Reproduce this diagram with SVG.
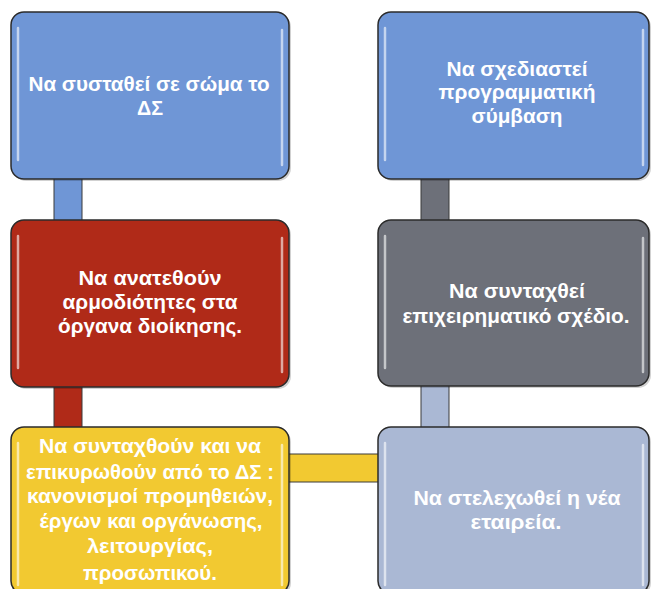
<svg xmlns="http://www.w3.org/2000/svg" width="651" height="589" viewBox="0 0 651 589">
<style>
.box{stroke:#2b2b2b;stroke-width:1.5}
.hl{stroke:#ffffff;stroke-width:2.5;stroke-linecap:round;opacity:0.6;fill:none}
.sh{fill:#000;opacity:0.18}
.con{stroke:#3a3a3a;stroke-width:1}
.t{font-family:"Liberation Sans",Arial,sans-serif;font-weight:700;font-size:20px;fill:#ffffff;text-anchor:middle}
</style>
<rect width="651" height="589" fill="#ffffff"/>
<g id="connectors">
<rect class="con" x="54" y="176" width="28" height="48" fill="#6f96d6"/>
<rect class="con" x="54" y="384" width="28" height="46" fill="#b02a18"/>
<rect class="con" x="286" y="454" width="95" height="28" fill="#f2c931"/>
<rect class="con" x="421" y="383" width="28" height="47" fill="#aab8d4"/>
<rect class="con" x="421" y="176" width="28" height="48" fill="#6d7079"/>
</g>
<g id="n1">
<rect class="sh" x="13" y="14" width="278" height="167" rx="13"/>
<rect class="box" x="11" y="12" width="278" height="167" rx="13" fill="#6f96d6"/>
<line class="hl" x1="18" y1="28" x2="18" y2="160"/>
<line class="hl" x1="282" y1="30" x2="282" y2="165"/>
<text class="t"><tspan x="149" y="91" textLength="241" lengthAdjust="spacingAndGlyphs">Να συσταθεί σε σώμα το</tspan><tspan x="150" y="115" textLength="26" lengthAdjust="spacingAndGlyphs">ΔΣ</tspan></text>
</g>
<g id="n2">
<rect class="sh" x="380" y="14" width="271" height="167" rx="13"/>
<rect class="box" x="378" y="12" width="271" height="167" rx="13" fill="#6f96d6"/>
<line class="hl" x1="385" y1="28" x2="385" y2="160"/>
<line class="hl" x1="643" y1="30" x2="643" y2="165"/>
<text class="t"><tspan x="517" y="76" textLength="141" lengthAdjust="spacingAndGlyphs">Να σχεδιαστεί</tspan><tspan x="517" y="99" textLength="157" lengthAdjust="spacingAndGlyphs">προγραμματική</tspan><tspan x="517" y="123" textLength="91" lengthAdjust="spacingAndGlyphs">σύμβαση</tspan></text>
</g>
<g id="n3">
<rect class="sh" x="13" y="222" width="278" height="167" rx="13"/>
<rect class="box" x="11" y="220" width="278" height="167" rx="13" fill="#b02a18"/>
<line class="hl" x1="18" y1="236" x2="18" y2="368" opacity="0.45"/>
<line class="hl" x1="282" y1="238" x2="282" y2="372" opacity="0.45"/>
<text class="t"><tspan x="150" y="285" textLength="143" lengthAdjust="spacingAndGlyphs">Να ανατεθούν</tspan><tspan x="150" y="309" textLength="175" lengthAdjust="spacingAndGlyphs">αρμοδιότητες στα</tspan><tspan x="150" y="333" textLength="184" lengthAdjust="spacingAndGlyphs">όργανα διοίκησης.</tspan></text>
</g>
<g id="n4">
<rect class="sh" x="380" y="222" width="271" height="166" rx="13"/>
<rect class="box" x="378" y="220" width="271" height="166" rx="13" fill="#6d7079"/>
<line class="hl" x1="385" y1="236" x2="385" y2="368"/>
<line class="hl" x1="643" y1="238" x2="643" y2="372"/>
<text class="t"><tspan x="517" y="298" textLength="136" lengthAdjust="spacingAndGlyphs">Να συνταχθεί</tspan><tspan x="516" y="323" textLength="227" lengthAdjust="spacingAndGlyphs">επιχειρηματικό σχέδιο.</tspan></text>
</g>
<g id="n5">
<rect class="sh" x="13" y="429" width="278" height="167" rx="13"/>
<rect class="box" x="11" y="427" width="278" height="167" rx="13" fill="#f2c931"/>
<line class="hl" x1="18" y1="443" x2="18" y2="585"/>
<line class="hl" x1="282" y1="445" x2="282" y2="585"/>
<text class="t"><tspan x="150" y="453" textLength="222" lengthAdjust="spacingAndGlyphs">Να συνταχθούν και να</tspan><tspan x="150" y="479" textLength="248" lengthAdjust="spacingAndGlyphs">επικυρωθούν από το ΔΣ :</tspan><tspan x="150" y="503" textLength="246" lengthAdjust="spacingAndGlyphs">κανονισμοί προμηθειών,</tspan><tspan x="151" y="528" textLength="223" lengthAdjust="spacingAndGlyphs">έργων και οργάνωσης,</tspan><tspan x="150" y="553" textLength="126" lengthAdjust="spacingAndGlyphs">λειτουργίας,</tspan><tspan x="150" y="580" textLength="134" lengthAdjust="spacingAndGlyphs">προσωπικού.</tspan></text>
</g>
<g id="n6">
<rect class="sh" x="380" y="429" width="271" height="167" rx="13"/>
<rect class="box" x="378" y="427" width="271" height="167" rx="13" fill="#aab8d4"/>
<line class="hl" x1="385" y1="443" x2="385" y2="585"/>
<line class="hl" x1="643" y1="445" x2="643" y2="585"/>
<text class="t"><tspan x="517" y="505" textLength="207" lengthAdjust="spacingAndGlyphs">Να στελεχωθεί η νέα</tspan><tspan x="516" y="529" textLength="91" lengthAdjust="spacingAndGlyphs">εταιρεία.</tspan></text>
</g>
</svg>
